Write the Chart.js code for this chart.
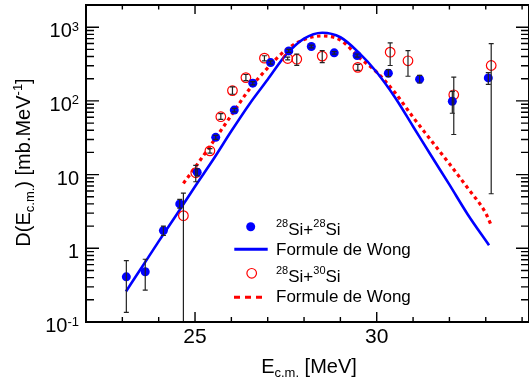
<!DOCTYPE html>
<html>
<head>
<meta charset="utf-8">
<script src="https://cdn.jsdelivr.net/npm/chart.js@4.4.1/dist/chart.umd.min.js"></script>
<style>
  html, body { margin: 0; padding: 0; background: #fff; overflow: hidden; }
  canvas { display: block; }
</style>
</head>
<body>
<canvas id="chart" width="529" height="383"></canvas>
<script>
// 28Si+28Si measured points and error bars
const siSi28X = [23.11, 23.63, 24.13, 24.58, 25.06, 25.57, 26.08, 26.59, 27.08, 27.58, 28.2, 28.83, 29.46, 30.32, 31.18, 32.08, 33.07];
const siSi28Y = [0.41, 0.48, 1.74, 4.0, 10.8, 32, 75, 174, 331, 477, 547, 449, 412, 238, 197, 99, 205];
const siSi28Lo = [0.135, 0.27, 1.5, 3.5, 9.6, 30, 71, 165, 315, 455, 525, 432, 392, 213, 175, 68, 168];
const siSi28Hi = [0.68, 0.71, 2.0, 4.6, 12.0, 34, 79, 183, 348, 500, 570, 468, 433, 265, 222, 135, 242];

// 28Si+30Si measured points and error bars
const siSi30X = [24.68, 25.02, 25.41, 25.71, 26.03, 26.40, 26.91, 27.55, 27.80, 28.5, 29.48, 30.37, 30.86, 32.12, 33.15];
const siSi30Y = [2.77, 10.6, 21, 61, 138, 207, 380, 376, 368, 405, 285, 458, 350, 121, 302];
const siSi30Lo = [0.05, 8.0, 19.5, 56, 123, 188, 350, 360, 303, 331, 260, 302, 216, 35, 5.5];
const siSi30Hi = [5.6, 13.3, 22.5, 67, 155, 228, 410, 392, 430, 480, 312, 612, 482, 210, 600];

// Wong formula curves
const wong28X = [23.1, 23.5, 24.0, 24.5, 25.0, 25.5, 26.0, 26.5, 27.0, 27.5, 28.0, 28.5, 29.0, 29.5, 30.0, 30.5, 31.0, 31.5, 32.0, 32.5, 33.09];
const wong28Y = [0.26, 0.52, 1.24, 2.9, 6.9, 16, 39, 91, 195, 420, 700, 840, 730, 455, 245, 112, 45, 18, 7.3, 2.9, 1.1];
const wong30X = [24.68, 25.0, 25.5, 26.0, 26.5, 27.0, 27.5, 28.0, 28.5, 29.0, 29.5, 30.0, 30.5, 31.0, 31.5, 32.0, 32.5, 33.0, 33.15];
const wong30Y = [7.6, 12.5, 28, 64, 145, 280, 490, 680, 760, 670, 395, 245, 130, 60, 29, 14, 6.6, 3.0, 2.05];

// axis ticks
const xMajorTicks = [25, 30];
const xMinorTicks = [23, 24, 26, 27, 28, 29, 31, 32, 33, 34];
const yMajorTicks = [0.1, 1, 10, 100, 1000];
const yTickLabels = [['10', '-1'], ['1', ''], ['10', ''], ['10', '2'], ['10', '3']];

const FONT = '"Liberation Sans", Arial, sans-serif';
const BLUE = '#0000ff';
const RED = '#ff0000';

const pts = (xs, ys) => xs.map((x, i) => ({ x, y: ys[i] }));

function richWidth(ctx, parts) {
  let w = 0;
  parts.forEach(p => {
    ctx.font = p.size + 'px ' + FONT;
    w += ctx.measureText(p.t).width;
  });
  return w;
}

function drawRich(ctx, parts, x, y, align) {
  const w = richWidth(ctx, parts);
  let cx = align === 'right' ? x - w : align === 'center' ? x - w / 2 : x;
  ctx.textAlign = 'left';
  ctx.textBaseline = 'alphabetic';
  parts.forEach(p => {
    ctx.font = p.size + 'px ' + FONT;
    ctx.fillText(p.t, cx, y + (p.dy || 0));
    cx += ctx.measureText(p.t).width;
  });
}

const errorBars = {
  id: 'errorBars',
  afterDatasetsDraw(chart) {
    const { ctx, chartArea, scales: { x, y } } = chart;
    const sets = [
      [siSi28X, siSi28Lo, siSi28Hi],
      [siSi30X, siSi30Lo, siSi30Hi]
    ];
    ctx.save();
    ctx.beginPath();
    ctx.rect(chartArea.left, chartArea.top, chartArea.width, chartArea.height);
    ctx.clip();
    ctx.strokeStyle = '#222';
    ctx.lineWidth = 1.2;
    sets.forEach(([xs, lo, hi]) => {
      xs.forEach((v, i) => {
        const px = x.getPixelForValue(v);
        const p1 = y.getPixelForValue(lo[i]);
        const p2 = y.getPixelForValue(hi[i]);
        ctx.beginPath();
        ctx.moveTo(px, p1); ctx.lineTo(px, p2);
        ctx.moveTo(px - 2.5, p1); ctx.lineTo(px + 2.5, p1);
        ctx.moveTo(px - 2.5, p2); ctx.lineTo(px + 2.5, p2);
        ctx.stroke();
      });
    });
    ctx.restore();
  }
};

const frame = {
  id: 'frame',
  afterDraw(chart) {
    const { ctx, chartArea: a, scales: { x, y } } = chart;
    ctx.save();
    ctx.fillStyle = '#000';
    ctx.strokeStyle = '#000';

    // ticks
    ctx.lineWidth = 1.4;
    ctx.beginPath();
    const xTick = (v, len) => {
      const px = x.getPixelForValue(v);
      ctx.moveTo(px, a.bottom); ctx.lineTo(px, a.bottom - len);
      ctx.moveTo(px, a.top); ctx.lineTo(px, a.top + len * 0.9);
    };
    xMajorTicks.forEach(v => xTick(v, 10));
    xMinorTicks.forEach(v => xTick(v, 5));
    const yTick = (v, len) => {
      const py = y.getPixelForValue(v);
      ctx.moveTo(a.left, py); ctx.lineTo(a.left + len, py);
      ctx.moveTo(a.right, py); ctx.lineTo(a.right - len, py);
    };
    yMajorTicks.forEach(v => {
      yTick(v, 13);
      for (let m = 2; m <= 9; m++) {
        const mv = v * m;
        if (mv < y.max) yTick(mv, 8);
      }
    });
    ctx.stroke();

    // frame
    ctx.lineWidth = 2;
    ctx.strokeRect(a.left, a.top, a.width, a.height);

    // tick labels
    xMajorTicks.forEach(v => {
      drawRich(ctx, [{ t: String(v), size: 21 }], x.getPixelForValue(v), a.bottom + 21, 'center');
    });
    yMajorTicks.forEach((v, i) => {
      const [base, exp] = yTickLabels[i];
      const parts = [{ t: base, size: 20 }];
      if (exp) parts.push({ t: exp, size: 13, dy: -6.5 });
      drawRich(ctx, parts, a.left - 7, y.getPixelForValue(v) + 10, 'right');
    });

    // axis titles
    drawRich(ctx, [
      { t: 'E', size: 20 },
      { t: 'c.m.', size: 13, dy: 4 },
      { t: ' [MeV]', size: 20 }
    ], 309, 373, 'center');

    ctx.save();
    ctx.translate(29.5, 162.5);
    ctx.rotate(-Math.PI / 2);
    drawRich(ctx, [
      { t: 'D(E', size: 20 },
      { t: 'c.m.', size: 13, dy: 4 },
      { t: ') [mb.MeV', size: 20 },
      { t: '-1', size: 13, dy: -8 },
      { t: ']', size: 20 }
    ], 0, 0, 'center');
    ctx.restore();

    // legend
    const tx = 276;
    ctx.fillStyle = BLUE;
    ctx.beginPath();
    ctx.arc(250.7, 226.7, 4.5, 0, Math.PI * 2);
    ctx.fill();

    ctx.strokeStyle = BLUE;
    ctx.lineWidth = 3;
    ctx.beginPath();
    ctx.moveTo(234.3, 249.3); ctx.lineTo(267.7, 249.3);
    ctx.stroke();

    ctx.strokeStyle = RED;
    ctx.lineWidth = 1.2;
    ctx.beginPath();
    ctx.arc(251.7, 273.3, 4.8, 0, Math.PI * 2);
    ctx.stroke();

    ctx.lineWidth = 3;
    ctx.setLineDash([6, 5]);
    ctx.beginPath();
    ctx.moveTo(234, 297.3); ctx.lineTo(267, 297.3);
    ctx.stroke();
    ctx.setLineDash([]);

    ctx.fillStyle = '#000';
    drawRich(ctx, [
      { t: '28', size: 11, dy: -8 }, { t: 'Si+', size: 17 },
      { t: '28', size: 11, dy: -8 }, { t: 'Si', size: 17 }
    ], tx, 235, 'left');
    drawRich(ctx, [{ t: 'Formule de Wong', size: 17 }], tx, 254.5, 'left');
    drawRich(ctx, [
      { t: '28', size: 11, dy: -8 }, { t: 'Si+', size: 17 },
      { t: '30', size: 11, dy: -8 }, { t: 'Si', size: 17 }
    ], tx, 281.7, 'left');
    drawRich(ctx, [{ t: 'Formule de Wong', size: 17 }], tx, 301.7, 'left');

    ctx.restore();
  }
};

new Chart(document.getElementById('chart'), {
  type: 'scatter',
  data: {
    datasets: [
      {
        label: '28Si+28Si',
        data: pts(siSi28X, siSi28Y),
        backgroundColor: BLUE,
        borderColor: BLUE,
        pointRadius: 4.5,
        pointBorderWidth: 0
      },
      {
        label: '28Si+30Si',
        data: pts(siSi30X, siSi30Y),
        backgroundColor: 'rgba(0,0,0,0)',
        borderColor: RED,
        pointRadius: 4.8,
        pointBorderWidth: 1.2
      },
      {
        label: 'Formule de Wong',
        data: pts(wong28X, wong28Y),
        showLine: true,
        borderColor: BLUE,
        borderWidth: 2.6,
        pointRadius: 0,
        cubicInterpolationMode: 'monotone'
      },
      {
        label: 'Formule de Wong (30Si)',
        data: pts(wong30X, wong30Y),
        showLine: true,
        borderColor: RED,
        borderWidth: 3.2,
        borderDash: [3.5, 3.5],
        pointRadius: 0,
        cubicInterpolationMode: 'monotone'
      }
    ]
  },
  options: {
    responsive: false,
    animation: false,
    devicePixelRatio: 1,
    layout: { autoPadding: false, padding: { left: 86, top: 5, right: 0, bottom: 61 } },
    plugins: { legend: { display: false }, tooltip: { enabled: false } },
    scales: {
      x: { type: 'linear', min: 22, max: 34.19, display: false },
      y: { type: 'logarithmic', min: 0.1, max: 2000, display: false }
    }
  },
  plugins: [errorBars, frame]
});
</script>
</body>
</html>
